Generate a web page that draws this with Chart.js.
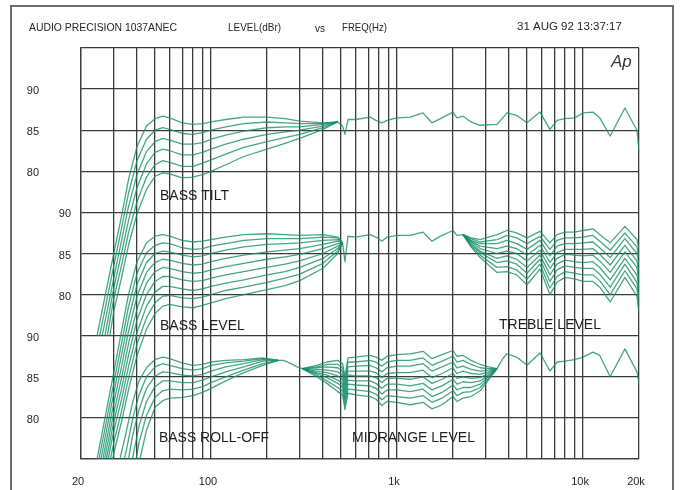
<!DOCTYPE html>
<html>
<head>
<meta charset="utf-8">
<title>LEVEL(dBr) vs FREQ(Hz)</title>
<script src="https://cdn.jsdelivr.net/npm/chart.js@4.4.1/dist/chart.umd.min.js"></script>
<style>
  html, body { margin: 0; padding: 0; background: #fff; }
  #wrap { position: relative; width: 683px; height: 490px; }
</style>
</head>
<body>
<div id="wrap"><canvas id="c" width="683" height="490"></canvas></div>
<script>
// ---------------- data (levels in dBr, frequencies in Hz) ----------------
const FLOOR_DB = 60;      // lowest level the sweep reaches at its first point
const EDGE_DB = 75;       // roll-off traces leave the bottom of the graph here

// Panel 1: BASS TILT
const tiltStartHz = [24.4, 25.2, 26.0, 26.9, 27.7, 28.6];
const tiltLowHz = [30, 33, 36, 40, 45, 50, 55, 60, 70, 80, 90, 100, 120, 150, 200, 250, 300, 400, 480];
const tiltLow1 = [70.0, 74.5, 79.0, 83.0, 85.5, 86.4, 86.7, 86.5, 85.9, 85.7, 85.8, 86.0, 86.3, 86.6, 86.6, 86.4, 86.1, 85.9, 86.0];
const tiltLow2 = [68.5, 73.0, 77.3, 81.3, 83.9, 85.0, 85.3, 85.1, 84.6, 84.5, 84.7, 85.0, 85.4, 85.8, 86.0, 85.9, 85.8, 85.8, 86.0];
const tiltLow3 = [67.0, 71.5, 75.7, 79.6, 82.4, 83.6, 84.0, 83.8, 83.3, 83.3, 83.5, 83.9, 84.4, 84.9, 85.3, 85.4, 85.4, 85.7, 86.0];
const tiltLow4 = [65.8, 70.0, 74.0, 78.0, 80.9, 82.3, 82.7, 82.5, 82.0, 82.0, 82.3, 82.7, 83.3, 83.9, 84.5, 84.8, 85.0, 85.5, 86.0];
const tiltLow5 = [64.5, 68.5, 72.5, 76.3, 79.3, 80.8, 81.3, 81.1, 80.6, 80.6, 81.0, 81.4, 82.1, 82.9, 83.6, 84.1, 84.5, 85.3, 86.0];
const tiltLow6 = [63.0, 67.0, 71.0, 74.8, 77.8, 79.4, 79.8, 79.7, 79.2, 79.3, 79.6, 80.0, 80.8, 81.8, 82.7, 83.4, 84.0, 85.1, 86.0];
const tiltFlatHz = [480, 510, 525, 545, 600, 716, 770, 830, 884, 1000, 1174, 1380, 1542, 1746, 2000, 2100, 2265, 2500, 2800, 3450,
                    3900, 4400, 5000, 5870, 6640, 7250, 8000, 9000, 10000, 11300, 12300, 14000, 16800, 19500, 20000];
const tiltFlat = [86.0, 85.5, 84.5, 86.3, 86.3, 86.6, 86.2, 85.9, 86.2, 86.5, 86.6, 87.1, 85.9, 86.5, 87.2, 86.5, 86.7, 86.0, 85.6, 85.7,
                  87.1, 86.8, 85.9, 87.2, 85.1, 86.2, 86.4, 86.5, 87.1, 87.2, 86.5, 84.3, 87.7, 85.0, 82.6];

// Panel 2: BASS LEVEL / TREBLE LEVEL
const bassStartHz = [24.4, 25.0, 25.6, 26.2, 26.8, 27.4, 28.0, 28.8, 29.6];
const bassLowHz = [30, 33, 36, 40, 45, 50, 55, 60, 70, 80, 90, 100, 120, 150, 200, 250, 300, 400, 480, 510];
const bassLow1 = [70.5, 75.5, 80.0, 84.0, 86.3, 87.1, 87.3, 87.1, 86.6, 86.4, 86.5, 86.7, 87.0, 87.3, 87.4, 87.3, 87.2, 87.3, 87.0, 86.3];
const bassLow2 = [69.2, 74.0, 78.5, 82.6, 85.1, 86.0, 86.3, 86.2, 85.7, 85.5, 85.6, 85.9, 86.2, 86.6, 86.8, 86.8, 86.8, 87.0, 86.9, 86.3];
const bassLow3 = [68.0, 72.6, 77.0, 81.2, 83.9, 85.0, 85.3, 85.2, 84.8, 84.6, 84.7, 85.0, 85.4, 85.8, 86.1, 86.2, 86.3, 86.6, 86.7, 86.3];
const bassLow4 = [66.8, 71.2, 75.5, 79.8, 82.7, 83.9, 84.3, 84.2, 83.8, 83.6, 83.7, 84.0, 84.4, 84.8, 85.2, 85.4, 85.6, 86.1, 86.5, 86.3];
const bassLow5 = [65.6, 69.8, 74.0, 78.3, 81.4, 82.8, 83.3, 83.2, 82.8, 82.6, 82.7, 83.0, 83.4, 83.8, 84.3, 84.6, 84.9, 85.6, 86.2, 86.3];
const bassLow6 = [64.5, 68.5, 72.6, 76.9, 80.0, 81.6, 82.2, 82.2, 81.8, 81.6, 81.7, 82.0, 82.4, 82.8, 83.3, 83.7, 84.1, 85.0, 85.9, 86.3];
const bassLow7 = [63.4, 67.2, 71.2, 75.4, 78.6, 80.3, 81.0, 81.0, 80.7, 80.5, 80.7, 81.0, 81.4, 81.8, 82.4, 82.8, 83.3, 84.4, 85.6, 86.3];
const bassLow8 = [62.0, 65.8, 69.8, 74.0, 77.2, 79.0, 79.8, 79.9, 79.6, 79.5, 79.7, 80.0, 80.5, 80.9, 81.5, 82.0, 82.5, 83.8, 85.3, 86.3];
const bassLow9 = [60.7, 64.5, 68.4, 72.6, 75.8, 77.7, 78.6, 78.8, 78.5, 78.4, 78.7, 79.0, 79.5, 80.0, 80.6, 81.1, 81.7, 83.2, 85.0, 86.3];
const levelFlatHz = [510, 525, 545, 600, 716, 770, 830, 884, 1000, 1174, 1380, 1542, 1746, 2000, 2100, 2265];
const levelFlat = [86.3, 84.0, 87.1, 87.0, 87.3, 87.0, 86.5, 87.0, 87.2, 87.2, 87.6, 86.5, 87.2, 87.8, 87.2, 87.3];
const trebleHz = [2265, 2500, 2800, 3450, 3900, 4400, 5000, 5870, 6640, 7250, 8000, 9000, 10000, 11300, 12300, 14000, 16800, 19500, 20000];
const treble1 = [87.3, 86.9, 86.7, 87.3, 87.8, 87.5, 86.9, 87.7, 86.3, 87.3, 87.6, 87.6, 87.8, 88.0, 87.3, 86.3, 88.3, 86.7, 85.5];
const treble2 = [87.3, 86.8, 86.4, 86.7, 87.2, 86.9, 86.2, 87.1, 85.5, 86.6, 86.9, 86.9, 87.0, 87.2, 86.5, 85.4, 87.5, 85.8, 84.5];
const treble3 = [87.3, 86.6, 86.2, 86.2, 86.6, 86.2, 85.5, 86.6, 84.7, 85.9, 86.2, 86.2, 86.3, 86.4, 85.7, 84.5, 86.8, 85.0, 83.6];
const treble4 = [87.3, 86.5, 85.9, 85.6, 85.9, 85.6, 84.8, 86.0, 83.9, 85.1, 85.5, 85.5, 85.5, 85.6, 84.9, 83.6, 86.0, 84.1, 82.6];
const treble5 = [87.3, 86.4, 85.6, 85.0, 85.3, 85.0, 84.1, 85.4, 83.2, 84.4, 84.9, 84.8, 84.7, 84.8, 84.1, 82.7, 85.2, 83.3, 81.7];
const treble6 = [87.3, 86.2, 85.3, 84.4, 84.7, 84.3, 83.3, 84.8, 82.4, 83.7, 84.2, 84.0, 83.9, 84.0, 83.3, 81.8, 84.4, 82.4, 80.7];
const treble7 = [87.3, 86.1, 85.1, 83.9, 84.1, 83.7, 82.6, 84.3, 81.6, 83.0, 83.5, 83.3, 83.2, 83.2, 82.5, 80.9, 83.7, 81.5, 79.7];
const treble8 = [87.3, 85.9, 84.8, 83.3, 83.4, 83.0, 81.9, 83.7, 80.8, 82.2, 82.8, 82.6, 82.4, 82.4, 81.7, 80.0, 82.9, 80.7, 78.8];
const treble9 = [87.3, 85.8, 84.5, 82.7, 82.8, 82.4, 81.2, 83.1, 80.0, 81.5, 82.1, 81.9, 81.6, 81.6, 80.9, 79.1, 82.1, 79.8, 77.8];

// Panel 3: BASS ROLL-OFF / MIDRANGE LEVEL
const rollStartHz = [32.4, 34.2, 36.0, 37.8, 39.6, 41.5];
const rollHz = [35, 38, 41, 45, 50, 55, 60, 70, 80, 90, 100, 120, 150, 190, 230];
const roll1 = [78.3, 82.0, 84.5, 86.1, 87.1, 87.4, 87.2, 86.7, 86.4, 86.5, 86.8, 87.0, 87.1, 87.3, 87.0];
const roll2 = [76.0, 80.0, 82.8, 85.0, 86.2, 86.6, 86.4, 86.0, 85.8, 86.0, 86.4, 86.7, 86.9, 87.2, 87.0];
const roll3 = [null, 78.0, 81.0, 83.6, 85.1, 85.6, 85.5, 85.2, 85.1, 85.3, 85.7, 86.2, 86.6, 87.1, 87.0];
const roll4 = [null, 75.3, 79.0, 82.0, 83.8, 84.5, 84.5, 84.3, 84.3, 84.6, 85.0, 85.6, 86.2, 86.9, 87.0];
const roll5 = [null, null, 77.0, 80.3, 82.5, 83.3, 83.5, 83.4, 83.5, 83.8, 84.3, 85.0, 85.8, 86.6, 87.0];
const roll6 = [null, null, null, 78.5, 81.3, 82.1, 82.4, 82.5, 82.7, 83.1, 83.6, 84.5, 85.5, 86.4, 87.0];
const rollFlatHz = [230, 245, 270, 290, 310];
const rollFlat = [87.0, 87.0, 86.6, 86.2, 86.0];
const midHz = [310, 370, 420, 480, 510, 525, 545, 600, 716, 770, 830, 884, 1000, 1174, 1380, 1542, 1746, 2000, 2100, 2265, 2500, 2800, 3100, 3450];
const mid1 = [86.0, 86.4, 86.8, 87.0, 86.6, 85.0, 87.3, 87.4, 87.6, 87.4, 87.0, 87.5, 87.7, 87.8, 88.1, 87.2, 87.7, 88.2, 87.5, 87.6, 87.0, 86.5, 86.2, 86.0];
const mid2 = [86.0, 86.2, 86.5, 86.5, 86.1, 84.5, 86.8, 86.8, 87.0, 86.8, 86.3, 86.8, 87.0, 87.0, 87.3, 86.4, 86.9, 87.5, 86.8, 87.0, 86.5, 86.1, 86.0, 86.0];
const mid3 = [86.0, 86.1, 86.2, 86.1, 85.7, 84.0, 86.2, 86.3, 86.4, 86.1, 85.6, 86.1, 86.3, 86.3, 86.6, 85.7, 86.2, 86.8, 86.1, 86.3, 85.9, 85.7, 85.8, 86.0];
const mid4 = [86.0, 85.9, 85.8, 85.6, 85.2, 83.5, 85.7, 85.7, 85.7, 85.5, 84.9, 85.4, 85.5, 85.5, 85.8, 84.9, 85.4, 86.1, 85.4, 85.7, 85.4, 85.3, 85.6, 86.0];
const mid5 = [86.0, 85.7, 85.5, 85.1, 84.7, 83.0, 85.2, 85.1, 85.1, 84.9, 84.3, 84.8, 84.8, 84.7, 85.0, 84.2, 84.7, 85.4, 84.8, 85.0, 84.8, 84.9, 85.4, 86.0];
const mid6 = [86.0, 85.5, 85.2, 84.6, 84.2, 82.5, 84.6, 84.5, 84.5, 84.2, 83.6, 84.1, 84.1, 83.9, 84.2, 83.4, 83.9, 84.7, 84.1, 84.4, 84.3, 84.5, 85.2, 86.0];
const mid7 = [86.0, 85.4, 84.9, 84.2, 83.8, 82.0, 84.1, 84.0, 83.9, 83.6, 82.9, 83.4, 83.4, 83.2, 83.5, 82.6, 83.1, 84.0, 83.4, 83.7, 83.7, 84.1, 85.0, 86.0];
const mid8 = [86.0, 85.2, 84.5, 83.7, 83.3, 81.5, 83.5, 83.4, 83.2, 82.9, 82.2, 82.7, 82.6, 82.4, 82.7, 81.9, 82.4, 83.3, 82.7, 83.1, 83.2, 83.7, 84.8, 86.0];
const mid9 = [86.0, 85.0, 84.2, 83.2, 82.8, 81.0, 83.0, 82.8, 82.6, 82.3, 81.5, 82.0, 81.9, 81.6, 81.9, 81.1, 81.6, 82.6, 82.0, 82.4, 82.6, 83.3, 84.6, 86.0];
const rollTailHz = [3450, 3700, 3900, 4400, 5000, 5870, 6640, 7250, 8000, 9000, 10000, 11300, 12300, 14000, 16800, 19500, 20000];
const rollTail = [86.0, 87.2, 87.8, 87.4, 86.4, 87.9, 85.7, 86.8, 86.9, 87.1, 87.4, 88.0, 87.6, 85.0, 88.4, 85.6, 84.2];

// Axis text
const gridHz = [20, 30, 40, 50, 60, 70, 80, 90, 100, 200, 300, 400, 500, 600, 700, 800, 900,
                1000, 2000, 3000, 4000, 5000, 6000, 7000, 8000, 9000, 10000, 20000];
const xLabelHz = [20, 100, 1000, 10000, 20000];
const xLabelText = ['20', '100', '1k', '10k', '20k'];
const yLabelDb = [90, 85, 80];

// ---------------- layout of the three stacked graphs ----------------
// one shared 0..50 axis; each graph is shifted so that its 90 dBr line
// lands on its own gridline
const SHIFT = { tilt: 45, level: 60, roll: 75 };
const LINE = 'rgba(24,142,106,0.8)';
const GRID = '#3b3b3b';
const FONT = '"Liberation Sans", Arial, Helvetica, sans-serif';

function trace(hz, db, shift, startHz, startDb) {
  const pts = [];
  if (startHz !== undefined) pts.push({ x: startHz, y: startDb - shift });
  hz.forEach((f, i) => { if (db[i] !== null) pts.push({ x: f, y: db[i] - shift }); });
  return pts;
}

const datasets = [];
function addTrace(points) {
  datasets.push({ data: points, borderColor: LINE, borderWidth: 1.3, pointRadius: 0,
                  tension: 0, fill: false, borderJoinStyle: 'round' });
}

[tiltLow1, tiltLow2, tiltLow3, tiltLow4, tiltLow5, tiltLow6].forEach((row, i) =>
  addTrace(trace(tiltLowHz, row, SHIFT.tilt, tiltStartHz[i], FLOOR_DB)));
addTrace(trace(tiltFlatHz, tiltFlat, SHIFT.tilt));

[bassLow1, bassLow2, bassLow3, bassLow4, bassLow5, bassLow6, bassLow7, bassLow8, bassLow9].forEach((row, i) =>
  addTrace(trace(bassLowHz, row, SHIFT.level, bassStartHz[i], FLOOR_DB)));
addTrace(trace(levelFlatHz, levelFlat, SHIFT.level));
[treble1, treble2, treble3, treble4, treble5, treble6, treble7, treble8, treble9].forEach(row =>
  addTrace(trace(trebleHz, row, SHIFT.level)));

[roll1, roll2, roll3, roll4, roll5, roll6].forEach((row, i) =>
  addTrace(trace(rollHz, row, SHIFT.roll, rollStartHz[i], EDGE_DB)));
addTrace(trace(rollFlatHz, rollFlat, SHIFT.roll));
[mid1, mid2, mid3, mid4, mid5, mid6, mid7, mid8, mid9].forEach(row =>
  addTrace(trace(midHz, row, SHIFT.roll)));
addTrace(trace(rollTailHz, rollTail, SHIFT.roll));

// ---------------- page furniture: frame, header, labels ----------------
const framePlugin = {
  id: 'frame',
  beforeDraw(chart) {
    const ctx = chart.ctx;
    ctx.save();
    ctx.fillStyle = '#ffffff';
    ctx.fillRect(0, 0, chart.width, chart.height);
    ctx.strokeStyle = '#6e6e6e';
    ctx.lineWidth = 2;
    ctx.strokeRect(11, 6, 662, 500);
    ctx.restore();
  }
};

const textPlugin = {
  id: 'texts',
  afterDraw(chart) {
    const ctx = chart.ctx;
    const xs = chart.scales.x, ys = chart.scales.y;
    ctx.save();
    ctx.fillStyle = '#262626';
    ctx.textBaseline = 'middle';

    // header line
    ctx.textAlign = 'left';
    ctx.font = '11.5px ' + FONT;
    ctx.fillText('AUDIO PRECISION 1037ANEC', 29, 28, 148);
    ctx.fillText('LEVEL(dBr)', 228, 28, 53);
    ctx.font = '10.5px ' + FONT;
    ctx.fillText('vs', 315, 29, 10);
    ctx.font = '11.5px ' + FONT;
    ctx.fillText('FREQ(Hz)', 342, 28, 45);
    ctx.fillText('31 AUG 92 13:37:17', 517, 27, 105);

    // logo
    ctx.font = 'italic 17px ' + FONT;
    ctx.fillStyle = '#3a3a3a';
    ctx.fillText('Ap', 611, 62);
    ctx.fillStyle = '#262626';

    // level labels, one column per graph
    ctx.font = '11px ' + FONT;
    ctx.textAlign = 'right';
    const cols = [[SHIFT.tilt, 39], [SHIFT.level, 71], [SHIFT.roll, 39]];
    cols.forEach(([shift, right]) => {
      yLabelDb.forEach(db => ctx.fillText(String(db), right, ys.getPixelForValue(db - shift) + 2));
    });

    // frequency labels
    ctx.textAlign = 'center';
    xLabelHz.forEach((f, i) => ctx.fillText(xLabelText[i], xs.getPixelForValue(f) - 3, 482));

    // graph captions
    ctx.font = '14px ' + FONT;
    ctx.textAlign = 'left';
    ctx.fillStyle = '#1f1f1f';
    ctx.fillText('BASS TILT', 160, 196, 72);
    ctx.fillText('BASS LEVEL', 160, 326, 86);
    ctx.fillText('TREBLE LEVEL', 499, 325, 104);
    ctx.fillText('BASS ROLL-OFF', 159, 438, 110);
    ctx.fillText('MIDRANGE LEVEL', 352, 438, 124);
    ctx.restore();
  }
};

new Chart(document.getElementById('c'), {
  type: 'line',
  data: { datasets },
  options: {
    responsive: false,
    animation: false,
    devicePixelRatio: 1,
    layout: { padding: { left: 81, right: 44, top: 48, bottom: 31 } },
    plugins: { legend: { display: false }, tooltip: { enabled: false } },
    scales: {
      x: {
        type: 'logarithmic', min: 20, max: 20000,
        afterBuildTicks: s => { s.ticks = gridHz.map(v => ({ value: v })); },
        afterFit: s => { s.height = 0; },
        ticks: { display: false },
        grid: { color: GRID, lineWidth: 1.3, drawTicks: false },
        border: { color: GRID, width: 1.3 }
      },
      y: {
        type: 'linear', min: 0, max: 50,
        afterFit: s => { s.width = 0; },
        ticks: { display: false, stepSize: 5 },
        grid: { color: GRID, lineWidth: 1.3, drawTicks: false },
        border: { color: GRID, width: 1.3 }
      }
    }
  },
  plugins: [framePlugin, textPlugin]
});
</script>
</body>
</html>
